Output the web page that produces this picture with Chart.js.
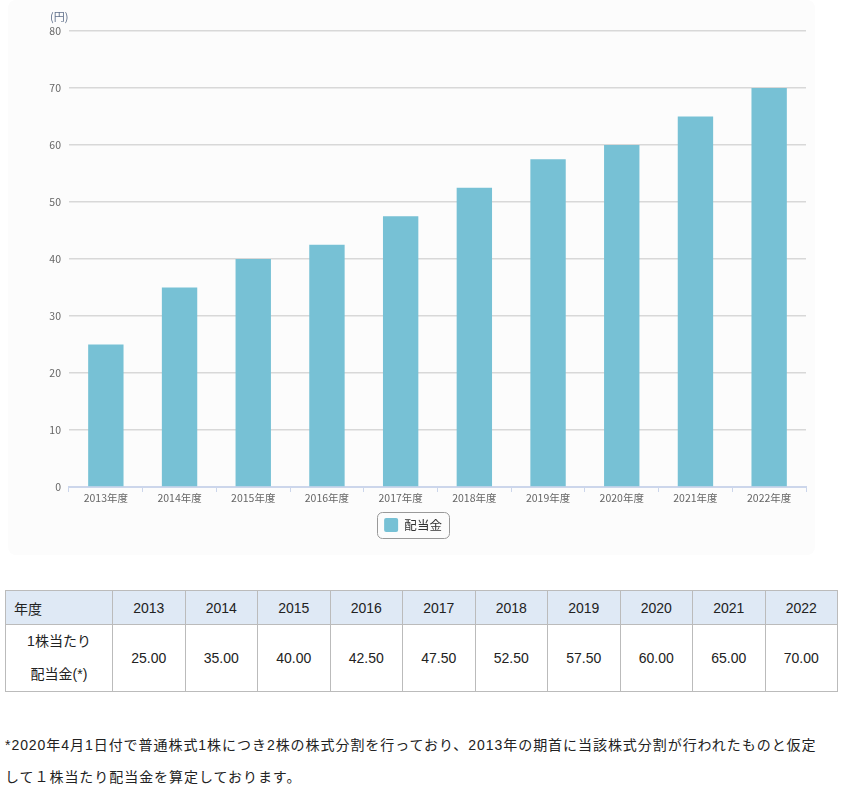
<!DOCTYPE html>
<html><head><meta charset="utf-8">
<script src="https://cdn.jsdelivr.net/npm/chart.js@4.4.0/dist/chart.umd.min.js"></script>
<style>
html,body{margin:0;padding:0;background:#fff;}
body{width:842px;height:798px;position:relative;font-family:"Liberation Sans","Noto Sans CJK JP",sans-serif;color:#222;}
#panel{position:absolute;left:8px;top:0;width:807px;height:555px;background:#fcfcfc;border-radius:8px;}
#panel canvas{display:block;}
table{position:absolute;left:5px;top:590px;border-collapse:collapse;width:833px;table-layout:fixed;font-size:14px;}
td,th{border:1px solid #bbb;font-weight:normal;text-align:center;padding:0;color:#222;}
thead th{background:#dfe9f5;height:33px;}
thead th.first{text-align:left;padding-left:8px;}
tbody td{height:66px;line-height:33px;}
#note{position:absolute;left:5px;top:729px;font-size:14px;line-height:32px;color:#222;width:837px;letter-spacing:0.95px;white-space:nowrap;}
</style></head>
<body>
<div id="panel"><canvas id="c" width="807" height="555"></canvas></div>
<table id="tbl"><thead><tr id="hrow"></tr></thead><tbody><tr id="drow"></tr></tbody></table>
<div id="note">*2020年4月1日付で普通株式1株につき2株の株式分割を行っており、2013年の期首に当該株式分割が行われたものと仮定<br>して１株当たり配当金を算定しております。</div>
<script>
const years = ['2013','2014','2015','2016','2017','2018','2019','2020','2021','2022'];
const categories = ['2013年度','2014年度','2015年度','2016年度','2017年度','2018年度','2019年度','2020年度','2021年度','2022年度'];
const dividends = [25, 35, 40, 42.5, 47.5, 52.5, 57.5, 60, 65, 70];
const yTicks = [0,10,20,30,40,50,60,70,80];
const seriesName = '配当金';
const unitLabel = '(円)';

// table
const hrow = document.getElementById('hrow');
const drow = document.getElementById('drow');
let h = '<th class="first" style="width:98px">年度</th>';
years.forEach(y => h += '<th>' + y + '</th>');
hrow.innerHTML = h;
let d = '<td>1株当たり<br>配当金(*)</td>';
dividends.forEach(v => d += '<td>' + v.toFixed(2) + '</td>');
drow.innerHTML = d;

const chartFont = '"Noto Sans CJK JP","Open Sans",sans-serif';
const LEG_PAD = 8;
const extras = {
  id:'extras',
  afterUpdate(chart){
    const lg = chart.legend;
    if (lg){
      lg.left += 6; lg.right += 6; lg.top += 1; lg.bottom += 1;
    }
  },
  afterDraw(chart){
    const ctx = chart.ctx;
    const y = chart.scales.y;
    ctx.save();
    ctx.font = '11px ' + chartFont;
    ctx.fillStyle = '#5f6f8a';
    ctx.textAlign = 'left';
    ctx.textBaseline = 'middle';
    ctx.fillText(unitLabel, 42, y.top - 14);
    const lg = chart.legend;
    if (lg && lg.legendHitBoxes && lg.legendHitBoxes.length){
      const b = lg.legendHitBoxes[0];
      const bx = (lg.left + LEG_PAD + lg.right - lg.lineWidths[0]) / 2;
      const by = lg.top + LEG_PAD;
      const x0 = bx - 7, y0 = by - 6, w = b.width + 14, hh = b.height + 12;
      ctx.strokeStyle = '#999';
      ctx.lineWidth = 1;
      ctx.beginPath();
      ctx.roundRect(Math.round(x0) + 0.5, Math.round(y0) + 0.5, Math.round(w), Math.round(hh), 5);
      ctx.stroke();
    }
    ctx.restore();
  }
};

new Chart(document.getElementById('c'), {
  type:'bar',
  data:{labels:categories, datasets:[{label:seriesName, data:dividends, backgroundColor:'#77c1d5', borderWidth:0, barPercentage:0.48, categoryPercentage:1}]},
  options:{
    responsive:false, animation:false,
    layout:{padding:{top:31, right:9, bottom:14, left:0}},
    plugins:{
      legend:{position:'bottom', labels:{font:{family:chartFont, size:12.5}, color:'#333', boxWidth:14, boxHeight:14, useBorderRadius:true, borderRadius:2, padding:LEG_PAD}},
      tooltip:{enabled:false}
    },
    scales:{
      x:{
        grid:{drawOnChartArea:false, drawTicks:true, tickLength:5, color:'#ccd6eb', offset:true},
        border:{color:'#ccd6eb', width:2},
        ticks:{font:{family:chartFont, size:10.5}, color:'#666', padding:0, maxRotation:0},
        afterFit(s){ s.height = 22; }
      },
      y:{
        min:0, max:80,
        afterBuildTicks(s){ s.ticks = yTicks.map(v => ({value:v})); },
        grid:{color:'#d8d8d8', lineWidth:1.5, drawTicks:false},
        border:{display:false},
        ticks:{font:{family:chartFont, size:10.5}, color:'#666', padding:8},
        afterFit(s){ s.width = 61; }
      }
    }
  },
  plugins:[extras]
});
</script>
</body></html>
